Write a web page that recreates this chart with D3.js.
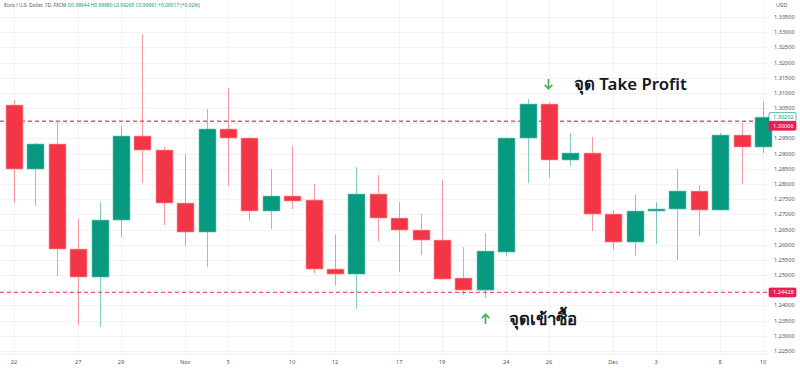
<!DOCTYPE html>
<html>
<head>
<meta charset="utf-8">
<script src="https://cdn.jsdelivr.net/npm/d3@7"></script>
<style>
  body { margin: 0; background: #fff; }
  svg { display: block; font-family: "Noto Sans", "DejaVu Sans", sans-serif; }
</style>
</head>
<body>
<div id="chart"></div>
<script>
// daily candles
var opens  = [1.30601, 1.28493, 1.29317, 1.25858, 1.24936, 1.26813, 1.29580, 1.29119, 1.27373, 1.26418,
              1.29811, 1.29514, 1.27110, 1.27604, 1.27472, 1.25199, 1.25034, 1.27670, 1.26879, 1.26484,
              1.26154, 1.24903, 1.24507, 1.25759, 1.29514, 1.30634, 1.28790, 1.29020, 1.27011, 1.26088,
              1.27110, 1.27176, 1.27768, 1.27143, 1.29613, 1.29218];
var highs  = [1.30766, 1.29350, 1.30041, 1.26846, 1.27406, 1.29910, 1.32940, 1.29218, 1.28987, 1.30470,
              1.31161, 1.29547, 1.28493, 1.29251, 1.27999, 1.26319, 1.28559, 1.28295, 1.27406, 1.27011,
              1.28131, 1.25924, 1.26385, 1.29530, 1.30799, 1.30700, 1.29679, 1.29547, 1.27110, 1.27670,
              1.27406, 1.28493, 1.27966, 1.29679, 1.30008, 1.30700];
var lows   = [1.27373, 1.27274, 1.24969, 1.23354, 1.23289, 1.26253, 1.28032, 1.26648, 1.25957, 1.25265,
              1.27933, 1.26780, 1.26517, 1.27176, 1.25067, 1.24672, 1.23882, 1.26121, 1.25100, 1.25660,
              1.24837, 1.24343, 1.24244, 1.25627, 1.28032, 1.28197, 1.28592, 1.26451, 1.25825, 1.25627,
              1.26023, 1.25496, 1.26286, 1.27143, 1.27999, 1.29020];
var closes = [1.28493, 1.29317, 1.25858, 1.24936, 1.26813, 1.29580, 1.29119, 1.27373, 1.26418, 1.29811,
              1.29514, 1.27110, 1.27604, 1.27439, 1.25199, 1.25034, 1.27670, 1.26879, 1.26484, 1.26154,
              1.24870, 1.24507, 1.25792, 1.29514, 1.30634, 1.28790, 1.29020, 1.27011, 1.26088, 1.27110,
              1.27176, 1.27768, 1.27143, 1.29613, 1.29218, 1.30202];

var tickIndex = [0, 3, 5, 8, 10, 13, 15, 18, 20, 23, 25, 28, 30, 33, 35];
var tickText  = ["22", "27", "29", "Nov", "5", "10", "12", "17", "19", "24", "26", "Dec", "3", "8", "10"];

var priceTicks = d3.range(1.225, 1.3351, 0.005);
var hiddenTicks = [1.300, 1.245]; // covered by the price tags

var takeProfit = 1.30066;
var entry = 1.24428;
var lastClose = 1.30202;

var title = "Euro / U.S. Dollar, 1D, FXCM";
var ohlcText = ["O0.99644", "H0.99980", "L0.99265", "C0.99661", "+0.00017 (+0.02%)"];

var width = 800, height = 368;
var plotRight = 768;

var up = "#089981", down = "#f23645", lineRed = "#f0507a", arrowGreen = "#4caf50";

var svg = d3.select("#chart").append("svg")
    .attr("width", width)
    .attr("height", height);

var x = d3.scaleLinear().domain([0, 35]).range([14, 763]);
var y = d3.scaleLinear().domain([1.225, 1.335]).range([351, 17]);
var bodyW = 17;

// grid
svg.append("g").selectAll("line.h")
  .data(priceTicks)
  .enter().append("line")
    .attr("x1", 0).attr("x2", plotRight)
    .attr("y1", function(d) { return Math.round(y(d)) + 0.5; })
    .attr("y2", function(d) { return Math.round(y(d)) + 0.5; })
    .attr("stroke", "#f2f3f5");

svg.append("g").selectAll("line.v")
  .data(tickIndex)
  .enter().append("line")
    .attr("x1", function(d) { return Math.round(x(d)) + 0.5; })
    .attr("x2", function(d) { return Math.round(x(d)) + 0.5; })
    .attr("y1", 0).attr("y2", 354)
    .attr("stroke", "#f2f3f5");

svg.append("line")
  .attr("x1", 0).attr("x2", plotRight)
  .attr("y1", 354.5).attr("y2", 354.5)
  .attr("stroke", "#eceef2");

// horizontal levels
[takeProfit, entry].forEach(function(v) {
  svg.append("line")
    .attr("x1", 0).attr("x2", plotRight)
    .attr("y1", y(v)).attr("y2", y(v))
    .attr("stroke", lineRed)
    .attr("stroke-width", 1.3)
    .attr("stroke-dasharray", "4,3");
});

// candles
var candles = svg.append("g").selectAll("g")
  .data(d3.range(opens.length))
  .enter().append("g");

candles.append("line")
  .attr("x1", function(i) { return Math.round(x(i)) + 0.5; })
  .attr("x2", function(i) { return Math.round(x(i)) + 0.5; })
  .attr("y1", function(i) { return y(highs[i]); })
  .attr("y2", function(i) { return y(lows[i]); })
  .attr("stroke", function(i) { return closes[i] >= opens[i] ? up : down; })
  .attr("stroke-opacity", 0.5);

candles.append("rect")
  .attr("x", function(i) { return Math.round(x(i)) - bodyW / 2 + 0.5; })
  .attr("width", bodyW)
  .attr("y", function(i) { return y(Math.max(opens[i], closes[i])); })
  .attr("height", function(i) { return Math.max(1.5, Math.abs(y(opens[i]) - y(closes[i]))); })
  .attr("fill", function(i) { return closes[i] >= opens[i] ? up : down; })
  .attr("stroke", function(i) { return closes[i] >= opens[i] ? "#6cc7b6" : "#f8a0a8"; })
  .attr("stroke-width", 0.6);

// right price axis
svg.append("g").selectAll("text")
  .data(priceTicks.filter(function(d) {
    return !hiddenTicks.some(function(h) { return Math.abs(h - d) < 1e-6; });
  }))
  .enter().append("text")
    .attr("x", 774)
    .attr("y", function(d) { return y(d) + 2; })
    .attr("font-size", 5.6)
    .attr("fill", "#50535e")
    .text(function(d) { return d.toFixed(5); });

svg.append("text")
  .attr("x", 776).attr("y", 7)
  .attr("font-size", 5.6)
  .attr("fill", "#50535e")
  .text("USD");

// price tags
function tag(v, dy, fill, stroke, color) {
  var g = svg.append("g").attr("transform", "translate(769," + (y(v) + dy) + ")");
  g.append("rect")
    .attr("x", 0).attr("y", -4.5)
    .attr("width", 27).attr("height", 9)
    .attr("rx", 1)
    .attr("fill", fill)
    .attr("stroke", stroke)
    .attr("stroke-width", 0.7);
  g.append("text")
    .attr("x", 4).attr("y", 2)
    .attr("font-size", 5.6)
    .attr("fill", color)
    .text(v.toFixed(5));
}
tag(lastClose, 0, "#fff", up, up);
tag(takeProfit, 4.5, "#e91e53", "#e91e53", "#fff");
tag(entry, 0, "#e91e53", "#e91e53", "#fff");

// time axis
svg.append("g").selectAll("text")
  .data(tickIndex)
  .enter().append("text")
    .attr("x", function(d) { return x(d); })
    .attr("y", 364)
    .attr("text-anchor", "middle")
    .attr("font-size", 5.6)
    .attr("fill", "#50535e")
    .text(function(d, k) { return tickText[k]; });

// header
var head = svg.append("text")
  .attr("x", 4).attr("y", 7)
  .attr("font-size", 4.9)
  .attr("fill", "#50535e");
head.append("tspan").text(title + "  ");
ohlcText.forEach(function(t) {
  head.append("tspan").attr("fill", up).text(t + " ");
});

// annotations
function arrow(cx, cy, dir) {
  // dir = 1 points down, -1 points up
  svg.append("path")
    .attr("d", "M" + cx + "," + (cy - 5 * dir) + "V" + (cy + 4.5 * dir) +
               "M" + (cx - 3.8) + "," + (cy + 0.8 * dir) + "L" + cx + "," + (cy + 4.8 * dir) +
               "L" + (cx + 3.8) + "," + (cy + 0.8 * dir))
    .attr("fill", "none")
    .attr("stroke", arrowGreen)
    .attr("stroke-width", 1.7);
}
arrow(Math.round(x(25)) - 0.5, 84, 1);
arrow(Math.round(x(22)) + 0.5, 319, -1);

svg.append("text")
  .attr("x", 574).attr("y", 89.5)
  .attr("font-size", 16.8)
  .attr("font-weight", 600)
  .attr("fill", "#131722")
  .text("จุด Take Profit");

svg.append("text")
  .attr("x", 509).attr("y", 325)
  .attr("font-size", 16.8)
  .attr("font-weight", 600)
  .attr("fill", "#131722")
  .text("จุดเข้าซื้อ");
</script>
</body>
</html>
